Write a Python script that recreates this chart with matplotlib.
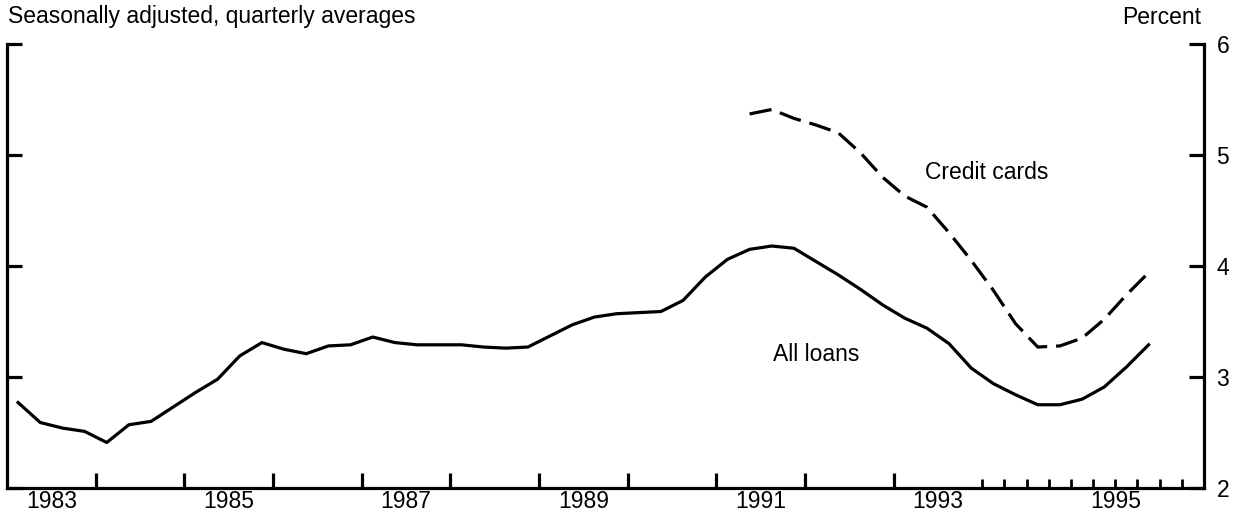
import matplotlib
matplotlib.use("Agg")
import matplotlib.pyplot as plt
from matplotlib.ticker import FixedLocator

plt.rcParams['font.family'] = ['Liberation Sans', 'DejaVu Sans']

# quarterly data, plotted at mid-quarter
all_loans_start = 1983
all_loans = [
    2.77, 2.59, 2.54, 2.51,   # 1983
    2.41, 2.57, 2.60, 2.73,   # 1984
    2.86, 2.98, 3.19, 3.31,   # 1985
    3.25, 3.21, 3.28, 3.29,   # 1986
    3.36, 3.31, 3.29, 3.29,   # 1987
    3.29, 3.27, 3.26, 3.27,   # 1988
    3.37, 3.47, 3.54, 3.57,   # 1989
    3.58, 3.59, 3.69, 3.90,   # 1990
    4.06, 4.15, 4.18, 4.16,   # 1991
    4.04, 3.92, 3.79, 3.65,   # 1992
    3.53, 3.44, 3.30, 3.08,   # 1993
    2.94, 2.84, 2.75, 2.75,   # 1994
    2.80, 2.91, 3.09, 3.29,   # 1995
]

# credit cards begin 1991 Q2
credit_start = 1991.25
credit_cards = [
    5.37, 5.41, 5.33,         # 1991
    5.27, 5.20, 5.02, 4.80,   # 1992
    4.63, 4.53, 4.30, 4.05,   # 1993
    3.78, 3.48, 3.27, 3.28,   # 1994
    3.35, 3.52, 3.74, 3.94,   # 1995
]

year_labels = ['1983', '1985', '1987', '1989', '1991', '1993', '1995']
y_ticks = [2, 3, 4, 5, 6]

x_all = [all_loans_start + 0.125 + 0.25 * i for i in range(len(all_loans))]
x_cc = [credit_start + 0.125 + 0.25 * i for i in range(len(credit_cards))]

fs = 16.5

fig = plt.figure(figsize=(12.35, 5.19), dpi=100)
ax = fig.add_axes([7 / 1235, 31 / 519, 1197 / 1235, 444 / 519])

ax.plot(x_all, all_loans, color='black', lw=2.3, solid_joinstyle='round')
ax.plot(x_cc, credit_cards, color='black', lw=2.3, dashes=(7, 2.8))

ax.set_xlim(1983.0, 1996.5)
ax.set_ylim(2, 6)

for side in ['left', 'right', 'bottom']:
    ax.spines[side].set_linewidth(2.3)
ax.spines['top'].set_visible(False)

# y axis: ticks inward on both sides, labels on the right
ax.yaxis.set_major_locator(FixedLocator(y_ticks))
ax.yaxis.set_minor_locator(FixedLocator([6]))
ax.tick_params(axis='y', which='major', direction='in', left=True, right=True,
               labelleft=False, labelright=True, length=11, width=2.3,
               labelsize=fs, pad=9)
ax.tick_params(axis='y', which='minor', direction='in', left=True, right=True,
               length=28, width=2.3)

# x axis: yearly ticks, quarterly from 1994
ax.xaxis.set_major_locator(FixedLocator(list(range(1984, 1994))))
ax.xaxis.set_minor_locator(FixedLocator([1994 + 0.25 * i for i in range(10)]))
ax.tick_params(axis='x', which='major', direction='in', length=11, width=2.3,
               labelbottom=False)
ax.tick_params(axis='x', which='minor', direction='in', length=6.5, width=2.0)

for lab in year_labels:
    ax.text(int(lab) + 0.5, -0.03, lab, transform=ax.get_xaxis_transform(),
            ha='center', va='center', fontsize=fs)

ax.text(1994.05, 4.84, 'Credit cards', ha='center', va='center', fontsize=fs)
ax.text(1992.13, 3.20, 'All loans', ha='center', va='center', fontsize=fs)

fig.text(8 / 1235, 1 - 17 / 519, 'Seasonally adjusted, quarterly averages',
         ha='left', va='center', fontsize=fs)
fig.text(1201 / 1235, 1 - 18 / 519, 'Percent', ha='right', va='center',
         fontsize=fs)

fig.savefig('out.png', dpi=100)
